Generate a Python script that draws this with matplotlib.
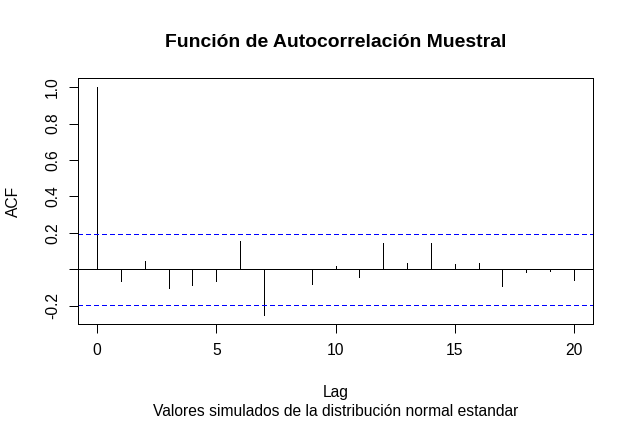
import matplotlib
matplotlib.use("Agg")
import matplotlib.pyplot as plt
import numpy as np

# Data
lags = list(range(0, 21))
acf_values = [1.000, -0.062, 0.046, -0.101, -0.086, -0.062, 0.156, -0.251,
              0.003, -0.079, 0.018, -0.040, 0.145, 0.037, 0.145, 0.031,
              0.037, -0.090, -0.013, -0.008, -0.057]
conf_limit = 0.196
x_ticks = [0, 5, 10, 15, 20]
y_ticks = [-0.2, 0.0, 0.2, 0.4, 0.6, 0.8, 1.0]
y_tick_labels = ["-0.2", "", "0.2", "0.4", "0.6", "0.8", "1.0"]

title = "Función de Autocorrelación Muestral"
xlabel = "Lag"
subtitle = "Valores simulados de la distribución normal estandar"
ylabel = "ACF"

plt.rcParams['font.family'] = ['Liberation Sans', 'DejaVu Sans']

W, H = 634, 422
DPI = 72
fig = plt.figure(figsize=(W / DPI, H / DPI), dpi=DPI)
fig.patch.set_facecolor('white')

left, right, top, bottom = 78, 593, 78, 324
ax = fig.add_axes([left / W, 1 - bottom / H, (right - left) / W, (bottom - top) / H])

ax.vlines(lags, 0, acf_values, colors='black', linewidth=1, antialiased=False)
ax.axhline(0, color='black', linewidth=1, antialiased=False)
for c in (conf_limit, -conf_limit):
    ax.axhline(c, color='#0000ff', linewidth=1, linestyle=(0, (4.5, 3)),
               antialiased=False)

ax.set_xlim(-0.8, 20.8)
ax.set_ylim(-0.30, 1.05)

fs = 15.6
ax.set_xticks(x_ticks)
ax.set_xticklabels([str(t) for t in x_ticks], fontsize=fs)
ax.set_yticks(y_ticks)
ax.set_yticklabels(y_tick_labels, fontsize=fs, rotation=90, va='center')
ax.tick_params(axis='x', length=9, width=1, pad=10, color='black')
ax.tick_params(axis='y', length=9, width=1, pad=9, color='black')
for sp in ax.spines.values():
    sp.set_linewidth(1)
    sp.set_color('black')
    sp.set_antialiased(False)

fig.text(335.5 / W, 1 - 46.7 / H, title, ha='center', va='baseline',
         fontsize=19.4, fontweight='bold')
fig.text(335.5 / W, 1 - 396.7 / H, xlabel, ha='center', va='baseline', fontsize=fs)
fig.text(335.5 / W, 1 - 416 / H, subtitle, ha='center', va='baseline', fontsize=fs)
fig.text(18.3 / W, 1 - 201 / H, ylabel, ha='center', va='baseline', rotation=90,
         fontsize=fs, rotation_mode='anchor')

fig.savefig('out.png', dpi=DPI)
